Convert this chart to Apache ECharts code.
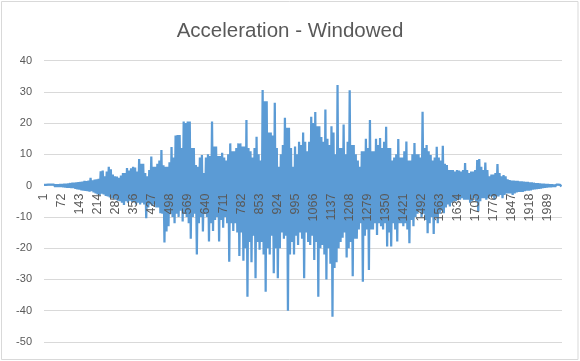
<!DOCTYPE html>
<html>
<head>
<meta charset="utf-8">
<script src="https://cdn.jsdelivr.net/npm/echarts@6/dist/echarts.min.js"></script>
<style>
html,body{margin:0;padding:0;background:#fff;}
#chart{width:580px;height:361px;}
</style>
</head>
<body>
<div id="chart"></div>
<script>
// Chart title and axis
const chartTitle = "Acceleration - Windowed";
const sampleCount = 2048;          // number of samples on the category axis
const sampleStep = 4;              // spacing (in samples) of the values read below
const yTicks = { min: -50, max: 40, interval: 10 };

// Values, one every `sampleStep` samples (starting at sample 1)
const accelRise = [
  0.2,-0.2,0.2,-0.2,0.3,-0.3,0.3,-0.3,0.3,-0.3,0.3,-0.4,0.4,-0.4,0.4,-0.4,
  0.5,-0.4,0.5,-0.5,0.6,-0.6,0.6,-0.7,0.7,-0.7,0.8,-0.8,0.9,-0.8,0.9,-1.0,
  1.0,-1.2,1.1,-1.3,1.2,-1.5,1.3,-1.6,1.5,-1.7,1.4,-1.8,1.6,-1.9,2.5,-1.8,
  1.7,-2.2,1.9,-2.5,2.0,-2.8,2.2,-3.0,4.6,-2.6,4.8,-2.8,3.0,-3.3,4.5,-3.5,
  6.0,-3.8,5.2,-4.0,3.5,-4.2,3.0,-4.5,2.9,-4.8,2.5,-5.0,3.2,-5.5,4.0,-6.2,
  4.0,-5.0,5.6,-5.5,4.8,-4.8,5.5,-5.2,6.0,-5.0,5.8,-6.0,4.5,-5.5,8.5,-6.0,
  7.0,-5.5,7.0,-6.0,4.0,-10.4,3.0,-7.0,5.0,-6.0,9.3,-6.5,6.0,-6.0,6.0,-7.0,
  7.0,-7.0,8.0,-8.8,11.4,-9.0,6.5,-18.2,6.0,-14.7,6.0,-13.0,7.5,-9.0,12.3,-10.0
];
const accelPeak = [
  9.0,-12.0,16.0,-9.0,16.2,-10.0,16.2,-8.0,12.0,-11.5,20.5,-9.0,20.0,-10.0,20.5,-12.0,
  20.5,-17.0,12.0,-10.0,12.0,-9.0,6.6,-22.0,6.0,-12.0,9.0,-10.0,9.8,-14.7,4.0,-9.0,
  9.0,-10.0,10.0,-17.9,9.5,-12.0,20.5,-14.5,12.5,-11.0,12.5,-10.0,9.5,-17.9,9.5,-11.0,
  10.5,-13.5,9.0,-10.0,8.0,-12.0,10.0,-24.3,13.5,-12.0,11.0,-14.5,11.0,-12.0,12.0,-15.0,
  13.5,-22.5,13.5,-15.0,12.5,-24.0,12.5,-20.0,21.0,-35.5,12.0,-18.0,11.0,-24.5,9.0,-16.0,
  12.0,-29.6,15.6,-18.0,10.0,-20.5,8.0,-18.0,30.6,-22.0,27.0,-33.9,27.0,-20.0,17.0,-22.0,
  17.0,-16.0,16.0,-28.0,26.5,-20.0,12.0,-29.6,6.0,-20.0,10.0,-15.0,13.0,-17.0,21.7,-16.0,
  18.5,-40.0,18.5,-22.0,12.0,-18.0,6.0,-22.0,12.5,-16.0,10.0,-19.0,14.0,-15.0,13.0,-17.0,
  17.0,-29.6,14.0,-15.0,11.0,-18.0,14.0,-19.0,22.0,-16.0,20.0,-23.8,23.5,-18.0,19.0,-35.5,
  19.0,-20.0,15.5,-19.0,14.0,-22.0,24.3,-30.0,15.0,-20.0,13.0,-25.0,19.0,-41.9,17.0,-26.3,
  10.0,-24.5,32.2,-20.0,12.0,-18.0,12.0,-16.7,19.5,-15.0,10.0,-23.0,14.0,-20.0,30.5,-18.0,
  13.0,-29.0,13.0,-17.0,10.0,-17.0,8.0,-14.0,6.0,-12.0,11.0,-30.7,11.0,-16.0,15.0,-14.0
];
const accelDecay = [
  12.0,-27.0,21.0,-14.0,11.0,-14.0,11.0,-12.0,15.0,-15.8,13.0,-12.0,15.2,-13.0,12.0,-14.0,
  14.0,-12.0,18.8,-19.5,12.0,-15.0,12.0,-19.5,8.0,-12.0,9.0,-14.0,10.0,-17.9,14.9,-12.0,
  9.0,-12.0,9.0,-13.0,11.0,-12.0,14.1,-14.0,8.0,-18.4,8.0,-11.0,10.0,-13.0,13.6,-10.0,
  10.0,-9.0,10.0,-8.0,9.0,-10.0,23.6,-9.0,12.0,-11.0,13.0,-15.2,11.0,-12.0,9.8,-10.0,
  8.0,-15.5,9.0,-10.0,12.4,-12.0,9.0,-9.0,8.0,-8.0,12.7,-8.8,7.0,-7.0,6.6,-6.0,
  5.0,-6.7,5.0,-5.5,5.0,-5.0,4.5,-5.0,5.0,-4.5,4.8,-4.5,4.5,-4.0,5.0,-4.5,
  7.2,-4.5,5.0,-4.5,4.0,-5.5,4.5,-5.0,4.5,-4.0,5.0,-5.0,8.2,-8.3,8.5,-5.0,
  6.0,-4.0,5.0,-4.0,7.4,-4.5,5.0,-4.0,3.0,-3.5,3.5,-3.5,3.5,-4.6,4.0,-3.5,
  6.9,-3.5,4.0,-3.0,3.0,-4.0,3.4,-3.0,3.0,-2.5,2.0,-2.5,1.8,-2.5,1.6,-3.0,
  1.6,-2.5,1.5,-2.2,1.5,-2.0,1.4,-2.0,1.4,-2.0,1.3,-1.8,1.2,-1.6,1.2,-1.6,
  1.0,-1.5,1.0,-1.3,0.9,-1.2,0.8,-1.1,0.8,-1.0,0.7,-0.9,0.6,-0.8,0.6,-0.7,
  0.5,-0.6,0.5,-0.5,0.4,-0.5,0.4,-0.4,0.3,-0.4,0.3,-0.3,0.3,-0.3,0.2,-0.3
];

const accelValues = accelRise.concat(accelPeak, accelDecay);
const categories = [];
for (let i = 1; i <= sampleCount; i++) categories.push(String(i));
const seriesData = accelValues.map((v, k) => [k * sampleStep, v]);

// grid geometry
const W = 580, H = 361;
const gridTop = 60.5, gridBottom = 19;
const plotH = H - gridTop - gridBottom;
// place the category axis where the value axis crosses zero
const zeroOffset = -plotH * (0 - yTicks.min) / (yTicks.max - yTicks.min);

const chart = echarts.init(document.getElementById('chart'), null, {renderer: 'canvas'});
const labelColor = '#595959';
const fontFam = '"Liberation Sans", Arial, sans-serif';
chart.setOption({
  animation: false,
  backgroundColor: '#ffffff',
  title: {
    text: chartTitle,
    left: 'center',
    top: 16,
    textStyle: {fontFamily: fontFam, fontSize: 20.5, fontWeight: 'normal', color: labelColor}
  },
  graphic: [{
    type: 'rect',
    shape: {x: 1.5, y: 1.5, width: 576.5, height: 358},
    style: {fill: 'none', stroke: '#d9d9d9', lineWidth: 1},
    silent: true
  }],
  grid: {left: 44, right: 18, top: gridTop, bottom: gridBottom, containLabel: false, outerBoundsMode: 'none'},
  xAxis: {
    type: 'category',
    data: categories,
    boundaryGap: false,
    position: 'bottom',
    offset: zeroOffset,
    z: 10,
    axisLine: {show: false, onZero: false},
    axisTick: {show: false},
    axisLabel: {
      interval: 70,
      rotate: 90,
      margin: 8,
      color: labelColor,
      fontFamily: fontFam,
      fontSize: 12.5
    },
    splitLine: {show: false}
  },
  yAxis: {
    type: 'value',
    min: yTicks.min,
    max: yTicks.max,
    interval: yTicks.interval,
    axisLine: {show: false},
    axisTick: {show: false},
    axisLabel: {color: labelColor, fontFamily: fontFam, fontSize: 11, margin: 12},
    splitLine: {lineStyle: {color: '#d9d9d9', width: 1}}
  },
  series: [{
    type: 'line',
    data: seriesData,
    showSymbol: false,
    symbol: 'none',
    sampling: null,
    lineStyle: {color: '#5b9bd5', width: 2.25},
    itemStyle: {color: '#5b9bd5'},
    z: 3
  }]
});
</script>
</body>
</html>
